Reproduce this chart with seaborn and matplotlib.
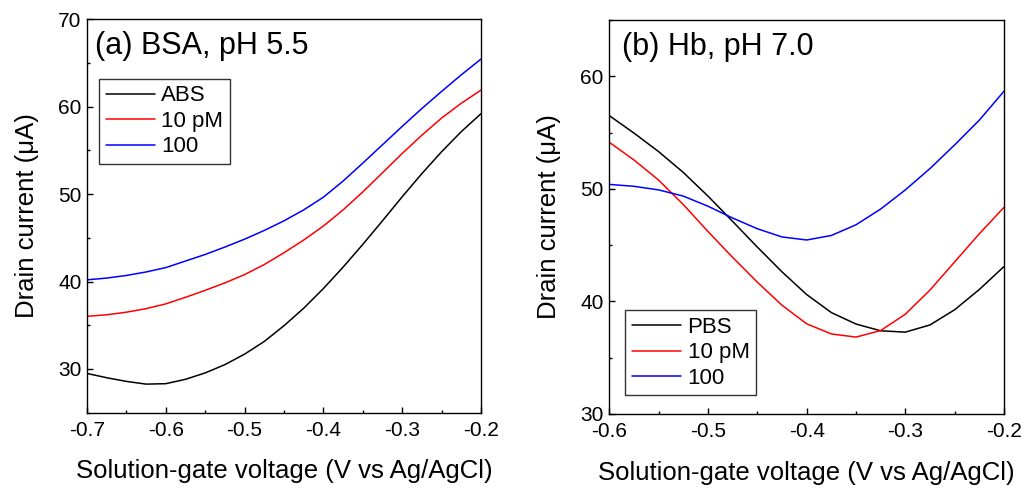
import numpy as np
import pandas as pd
import matplotlib
matplotlib.use("Agg")
import matplotlib.pyplot as plt
from matplotlib.ticker import MultipleLocator
import seaborn as sns

# (a) BSA, pH 5.5
vg_a = [-0.700, -0.675, -0.650, -0.625, -0.600, -0.575, -0.550, -0.525, -0.500, -0.475, -0.450,
        -0.425, -0.400, -0.375, -0.350, -0.325, -0.300, -0.275, -0.250, -0.225, -0.200]
abs_a = [29.49, 29.0, 28.58, 28.27, 28.32, 28.82, 29.55, 30.5, 31.7, 33.15, 34.95,
         36.95, 39.2, 41.65, 44.25, 46.95, 49.7, 52.35, 54.85, 57.15, 59.2]
pm10_a = [36.03, 36.2, 36.5, 36.9, 37.45, 38.2, 39.0, 39.85, 40.8, 41.95, 43.3,
          44.75, 46.35, 48.2, 50.25, 52.45, 54.65, 56.75, 58.7, 60.4, 61.9]
pm100_a = [40.2, 40.4, 40.7, 41.1, 41.6, 42.35, 43.1, 43.95, 44.85, 45.85, 46.95,
           48.2, 49.65, 51.5, 53.55, 55.65, 57.75, 59.8, 61.75, 63.65, 65.45]

# (b) Hb, pH 7.0
vg_b = [-0.600, -0.575, -0.550, -0.525, -0.500, -0.475, -0.450, -0.425, -0.400,
        -0.375, -0.350, -0.325, -0.300, -0.275, -0.250, -0.225, -0.200]
pbs_b = [56.5, 54.95, 53.3, 51.45, 49.35, 47.1, 44.82, 42.62, 40.6,
         39.0, 37.98, 37.38, 37.26, 37.9, 39.25, 41.05, 43.09]
pm10_b = [54.13, 52.56, 50.77, 48.6, 46.2, 43.9, 41.7, 39.65, 38.0,
          37.1, 36.82, 37.4, 38.85, 41.0, 43.5, 46.0, 48.35]
pm100_b = [50.39, 50.22, 49.9, 49.35, 48.45, 47.4, 46.45, 45.72, 45.45,
           45.85, 46.8, 48.2, 49.9, 51.8, 53.9, 56.1, 58.67]

df_a = pd.DataFrame({
    "vg": vg_a * 3,
    "id": abs_a + pm10_a + pm100_a,
    "sample": ["ABS"] * len(vg_a) + ["10 pM"] * len(vg_a) + ["100"] * len(vg_a),
})
df_b = pd.DataFrame({
    "vg": vg_b * 3,
    "id": pbs_b + pm10_b + pm100_b,
    "sample": ["PBS"] * len(vg_b) + ["10 pM"] * len(vg_b) + ["100"] * len(vg_b),
})

sns.set_style("ticks")
plt.rcParams["font.family"] = ["Liberation Sans", "DejaVu Sans"]
plt.rcParams["axes.linewidth"] = 1.0
for key in ["text.color", "axes.labelcolor", "xtick.color", "ytick.color", "axes.edgecolor"]:
    plt.rcParams[key] = "black"

fig = plt.figure(figsize=(10.31, 4.88), dpi=100)
ax1 = fig.add_axes([0.0844, 0.1543, 0.3821, 0.8061])
ax2 = fig.add_axes([0.5910, 0.1520, 0.3828, 0.8070])

pal_a = {"ABS": "black", "10 pM": "#ff0000", "100": "#0000ff"}
pal_b = {"PBS": "black", "10 pM": "#ff0000", "100": "#0000ff"}

sns.lineplot(data=df_a, x="vg", y="id", hue="sample", palette=pal_a,
             estimator=None, linewidth=1.1, ax=ax1)
sns.lineplot(data=df_b, x="vg", y="id", hue="sample", palette=pal_b,
             estimator=None, linewidth=1.1, ax=ax2)

ax1.set_xlim(-0.7, -0.2)
ax1.set_ylim(25, 70)
ax2.set_xlim(-0.6, -0.2)
ax2.set_ylim(30, 65)

for ax in (ax1, ax2):
    ax.xaxis.set_major_locator(MultipleLocator(0.1))
    ax.xaxis.set_minor_locator(MultipleLocator(0.05))
    ax.yaxis.set_major_locator(MultipleLocator(10))
    ax.yaxis.set_minor_locator(MultipleLocator(5))
    ax.tick_params(which="major", direction="in", length=4.5, width=1.0,
                   labelsize=15, pad=6)
    ax.tick_params(which="minor", direction="in", length=2.3, width=1.0)
    ax.tick_params(axis="y", which="major", pad=4)
    ax.xaxis.set_major_formatter(plt.FuncFormatter(lambda v, p: f"{v:.1f}"))
    for s in ax.spines.values():
        s.set_visible(True)
        s.set_linewidth(1.0)
    ax.set_xlabel("Solution-gate voltage (V vs Ag/AgCl)", fontsize=18.5, labelpad=14)
    ax.set_ylabel("Drain current (\u03bcA)", fontsize=18.5, labelpad=14)

ax1.text(0.02, 0.932, "(a) BSA, pH 5.5", transform=ax1.transAxes,
         fontsize=22, ha="left", va="center")
ax2.text(0.031, 0.932, "(b) Hb, pH 7.0", transform=ax2.transAxes,
         fontsize=22, ha="left", va="center")

h, l = ax1.get_legend_handles_labels()
leg = ax1.legend(h, l, loc="upper left", bbox_to_anchor=(0.031, 0.849),
                 borderaxespad=0, fontsize=16, frameon=True, fancybox=False,
                 framealpha=1, edgecolor="#333333", handlelength=2.2,
                 handletextpad=0.3, labelspacing=0.2, borderpad=0.3)
leg.get_frame().set_linewidth(1.0)

h, l = ax2.get_legend_handles_labels()
leg = ax2.legend(h, l, loc="lower left", bbox_to_anchor=(0.0405, 0.0467),
                 borderaxespad=0, fontsize=16, frameon=True, fancybox=False,
                 framealpha=1, edgecolor="#333333", handlelength=2.2,
                 handletextpad=0.3, labelspacing=0.2, borderpad=0.3)
leg.get_frame().set_linewidth(1.0)

fig.savefig("out.png", dpi=100)
